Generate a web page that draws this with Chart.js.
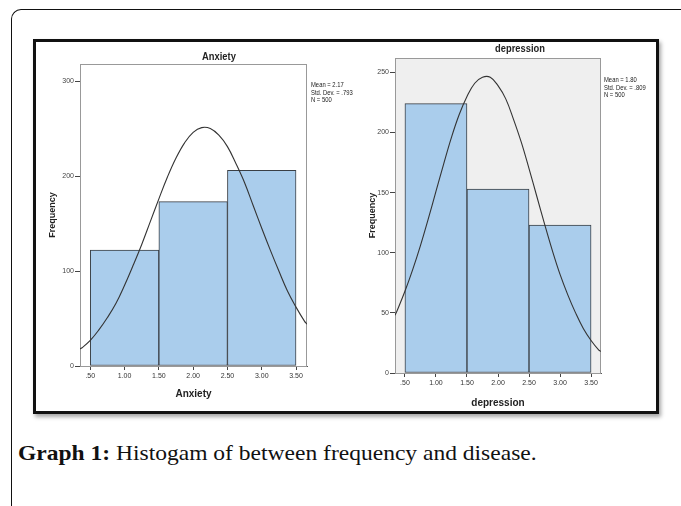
<!DOCTYPE html>
<html lang="en">
<head>
  <meta charset="UTF-8" />
  <title>Graph 1: Histogam of between frequency and disease</title>
  <script src="https://cdn.jsdelivr.net/npm/chart.js"></script>
  <style>
    body {
      margin: 0;
      width: 681px;
      height: 506px;
      overflow: hidden;
      background: #fff;
      position: relative;
      font-family: 'Liberation Sans', Arial, sans-serif;
    }
    .page-frame {
      position: absolute;
      left: 11px;
      top: 9px;
      width: 700px;
      height: 520px;
      border-top: 1.5px solid #111;
      border-left: 1.5px solid #111;
      border-top-left-radius: 10px;
    }
    .figure-box {
      position: absolute;
      left: 33px;
      top: 39px;
      width: 626px;
      height: 375px;
      box-sizing: border-box;
      border: 3px solid #111;
      box-shadow: 2px 3px 4px rgba(0, 0, 0, 0.35);
      background: #fff;
    }
    canvas {
      position: absolute;
    }
    #anxietyChart { left: 36px; top: 42px; }
    #depressionChart { left: 360px; top: 42px; }
    .caption {
      position: absolute;
      left: 18px;
      top: 441px;
      font-family: 'Liberation Serif', 'DejaVu Serif', serif;
      font-size: 21px;
      color: #111;
      white-space: nowrap;
      transform: scaleX(1.12);
      transform-origin: left top;
    }
  </style>
</head>
<body>
  <div class="page-frame"></div>
  <div class="figure-box"></div>
  <canvas id="anxietyChart" width="320" height="368"></canvas>
  <canvas id="depressionChart" width="296" height="368"></canvas>
  <div class="caption"><b>Graph 1:</b> Histogam of between frequency and disease.</div>

  <script>
    // histogram bins (centres, width 1)
    const binCenters = [1, 2, 3];
    const anxietyFreq = [122, 173, 206];
    const depressionFreq = [224, 153, 123];

    // normal curves
    const anxietyCurveX = [0.35, 0.375, 0.5, 0.625, 0.75, 0.875, 1.0, 1.125, 1.25, 1.375, 1.5, 1.625, 1.75, 1.875,
      2.0, 2.125, 2.25, 2.375, 2.5, 2.625, 2.75, 2.875, 3.0, 3.125, 3.25, 3.375, 3.5, 3.625, 3.66];
    const anxietyCurveY = [18, 19, 27, 38, 51, 66, 85, 106, 128, 152, 176, 199, 219, 235,
      246, 251, 250, 243, 231, 213, 193, 169, 145, 122, 100, 79, 62, 47, 44];
    const depressionCurveX = [0.34, 0.375, 0.5, 0.625, 0.75, 0.875, 1.0, 1.125, 1.25, 1.375, 1.5, 1.625, 1.75, 1.875,
      2.0, 2.125, 2.25, 2.375, 2.5, 2.625, 2.75, 2.875, 3.0, 3.125, 3.25, 3.375, 3.5, 3.625, 3.66];
    const depressionCurveY = [48, 52, 68, 86, 106, 128, 151, 174, 196, 215, 230, 241, 246, 246,
      239, 228, 211, 192, 170, 147, 124, 102, 82, 65, 50, 37, 27, 19, 18];

    const xTickValues = [0.5, 1.0, 1.5, 2.0, 2.5, 3.0, 3.5];
    const xTickLabels = ['.50', '1.00', '1.50', '2.00', '2.50', '3.00', '3.50'];

    const anxietyStats = ['Mean = 2.17', 'Std. Dev. = .793', 'N = 500'];
    const depressionStats = ['Mean = 1.80', 'Std. Dev. = .809', 'N = 500'];

    const sans = "'Liberation Sans', Arial, sans-serif";
    const barColor = '#aacdec';

    function makeHistogram(id, cfg) {
      const frame = {
        id: 'frame',
        beforeDatasetsDraw(chart) {
          const { ctx, chartArea: a } = chart;
          ctx.save();
          ctx.fillStyle = cfg.plotBg;
          ctx.fillRect(a.left, a.top, a.right - a.left, a.bottom - a.top);
          ctx.strokeStyle = '#999';
          ctx.lineWidth = 1;
          ctx.strokeRect(a.left + 0.5, a.top + 0.5, a.right - a.left - 1, a.bottom - a.top);
          ctx.restore();
        },
        afterDraw(chart) {
          const { ctx } = chart;
          ctx.save();
          ctx.fillStyle = '#222';
          ctx.textBaseline = 'middle';
          // title, slightly condensed like the SPSS output
          ctx.font = 'bold 11px ' + sans;
          ctx.save();
          ctx.translate(cfg.titleX, cfg.titleY);
          ctx.scale(0.85, 1);
          ctx.textAlign = 'center';
          ctx.fillText(cfg.title, 0, 0);
          ctx.restore();
          // stats box text
          ctx.font = '7.5px ' + sans;
          ctx.textAlign = 'left';
          cfg.stats.forEach((s, i) => {
            ctx.save();
            ctx.translate(cfg.statsX, cfg.statsY + i * 7.5);
            ctx.scale(0.78, 1);
            ctx.fillText(s, 0, 0);
            ctx.restore();
          });
          ctx.restore();
        }
      };

      new Chart(document.getElementById(id), {
        type: 'bar',
        data: {
          datasets: [
            {
              type: 'line',
              data: cfg.curveX.map((x, i) => ({ x: x, y: cfg.curveY[i] })),
              borderColor: '#333',
              borderWidth: 1.1,
              pointRadius: 0,
              tension: 0.4,
              fill: false,
              order: 0
            },
            {
              xAxisID: 'xb',
              data: binCenters.map((x, i) => ({ x: x, y: cfg.freq[i] })),
              backgroundColor: barColor,
              borderColor: '#3a3f45',
              borderWidth: 1,
              borderSkipped: false,
              barPercentage: 1.0,
              categoryPercentage: 1.0,
              grouped: false,
              order: 1
            }
          ]
        },
        options: {
          responsive: false,
          animation: false,
          layout: { padding: cfg.padding },
          plugins: {
            legend: { display: false },
            tooltip: { enabled: false },
            title: { display: false }
          },
          scales: {
            x: {
              type: 'linear',
              offset: false,
              min: cfg.xMin,
              max: cfg.xMax,
              afterBuildTicks: s => { s.ticks = xTickValues.map(v => ({ value: v })); },
              afterFit: s => { s.height = cfg.xHeight; },
              ticks: {
                callback: (v, i) => xTickLabels[i],
                font: { size: 7, family: sans },
                color: '#333',
                padding: 2,
                maxRotation: 0,
                autoSkip: false
              },
              grid: { offset: false, drawOnChartArea: false, tickLength: 4, color: '#444' },
              border: { color: '#555' },
              title: {
                display: true,
                text: cfg.title,
                font: { size: 10, weight: 'bold', family: sans },
                color: '#222',
                padding: { top: 0, bottom: cfg.xTitlePad }
              }
            },
            // hidden axis for the bars so tick spacing does not shrink bar width
            xb: {
              type: 'linear',
              display: false,
              offset: false,
              grid: { offset: false },
              min: cfg.xMin,
              max: cfg.xMax,
              afterBuildTicks: s => { s.ticks = []; }
            },
            y: {
              min: 0,
              max: cfg.yMax,
              afterFit: s => { s.width = cfg.yWidth; },
              ticks: {
                stepSize: cfg.yStep,
                includeBounds: false,
                font: { size: 7, family: sans },
                color: '#444',
                padding: 1
              },
              grid: { drawOnChartArea: false, tickLength: 5, color: '#444' },
              border: { color: '#555' },
              title: {
                display: true,
                text: 'Frequency',
                font: { size: 9, weight: 'bold', family: sans },
                color: '#222',
                padding: { top: cfg.yTitlePad, bottom: 0 }
              }
            }
          }
        },
        plugins: [frame]
      });
    }

    makeHistogram('anxietyChart', {
      title: 'Anxiety',
      freq: anxietyFreq,
      curveX: anxietyCurveX,
      curveY: anxietyCurveY,
      stats: anxietyStats,
      plotBg: '#ffffff',
      xMin: 0.35, xMax: 3.66,
      yMax: 318, yStep: 100,
      padding: { left: 0, top: 22, right: 49, bottom: 0 },
      yWidth: 44, xHeight: 44,
      yTitlePad: 11, xTitlePad: 10,
      titleX: 183, titleY: 15,
      statsX: 275, statsY: 43
    });

    makeHistogram('depressionChart', {
      title: 'depression',
      freq: depressionFreq,
      curveX: depressionCurveX,
      curveY: depressionCurveY,
      stats: depressionStats,
      plotBg: '#efefef',
      xMin: 0.34, xMax: 3.66,
      yMax: 262, yStep: 50,
      padding: { left: 0, top: 16, right: 55, bottom: 0 },
      yWidth: 35, xHeight: 37,
      yTitlePad: 7, xTitlePad: 1,
      titleX: 160, titleY: 7,
      statsX: 244, statsY: 38
    });
  </script>
</body>
</html>
